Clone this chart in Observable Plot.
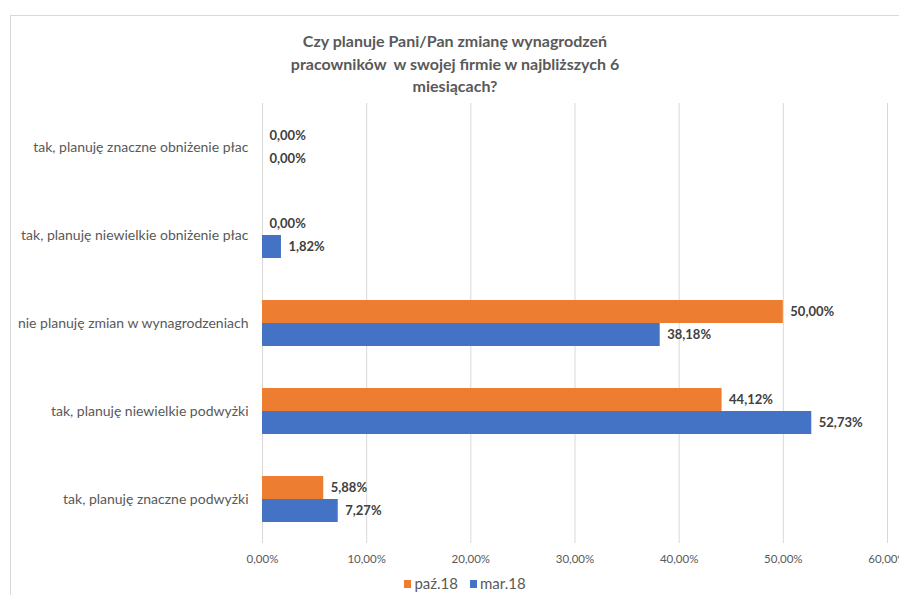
<!DOCTYPE html>
<html>
<head>
<meta charset="utf-8">
<script src="https://cdn.jsdelivr.net/npm/d3@7"></script>
<script src="https://cdn.jsdelivr.net/npm/@observablehq/plot@0.6"></script>
<style>
  html, body { margin: 0; padding: 0; background: #fff; }
  #wrap { position: relative; width: 899px; height: 595px; overflow: hidden; font-family: Lato, "Open Sans", sans-serif; }
  #frame { position: absolute; left: 10px; top: 15px; width: 1000px; height: 700px; border-left: 1px solid #d9d9d9; border-top: 1px solid #d9d9d9; }
  #title { position: absolute; left: 0; top: 30px; width: 910px; text-align: center; font-size: 16px; font-weight: 700; color: #595959; line-height: 22.5px; }
  #chart { position: absolute; left: 0; top: 100px; }
  #legend { position: absolute; left: 0; top: 573px; width: 930px; text-align: center; font-size: 15px; color: #595959; line-height: 20px; }
  #legend span.item { display: inline-block; margin: 0 6px; }
  #legend span.sw { display: inline-block; width: 7px; height: 8px; margin-right: 3px; vertical-align: 1px; }
</style>
</head>
<body>
<div id="wrap">
  <div id="frame"></div>
  <div id="title">Czy planuje Pani/Pan zmianę wynagrodzeń<br>pracowników&nbsp; w swojej firmie w najbliższych 6<br>miesiącach?</div>
  <div id="chart"></div>
  <div id="legend"></div>
</div>
<script>
const categories = [
  "tak, planuję znaczne obniżenie płac",
  "tak, planuję niewielkie obniżenie płac",
  "nie planuję zmian w wynagrodzeniach",
  "tak, planuję niewielkie podwyżki",
  "tak, planuję znaczne podwyżki"
];
const seriesNames = ["paź.18", "mar.18"];
const paz18 = [0.00, 0.00, 50.00, 44.12, 5.88];
const mar18 = [0.00, 1.82, 38.18, 52.73, 7.27];
const xTicks = [0, 10, 20, 30, 40, 50, 60];
const colors = ["#ED7D31", "#4472C4"];

const fmt = v => v.toFixed(2).replace(".", ",") + "%";
const orange = categories.map((c, i) => ({category: c, series: seriesNames[0], value: paz18[i]}));
const blue = categories.map((c, i) => ({category: c, series: seriesNames[1], value: mar18[i]}));

const chart = Plot.plot({
  width: 899,
  height: 470,
  marginLeft: 262,
  marginRight: 12,
  marginTop: 3,
  marginBottom: 27,
  style: {fontFamily: "Lato, 'Open Sans', sans-serif", background: "transparent", overflow: "visible"},
  x: {domain: [0, 60], ticks: xTicks, tickFormat: fmt, label: null},
  y: {domain: categories, paddingInner: 42/88, paddingOuter: 21/88, align: 0.5, label: null},
  marks: [
    Plot.ruleX(xTicks, {stroke: "#d9d9d9", strokeWidth: 1}),
    Plot.barX(orange, {x: "value", y: "category", fill: colors[0], insetBottom: 23}),
    Plot.barX(blue, {x: "value", y: "category", fill: colors[1], insetTop: 23}),
    Plot.text(orange, {x: "value", y: "category", text: d => fmt(d.value), dy: -11.5, dx: 7, textAnchor: "start", fill: "#404040", fontWeight: "bold", fontSize: 13}),
    Plot.text(blue, {x: "value", y: "category", text: d => fmt(d.value), dy: 11.5, dx: 7, textAnchor: "start", fill: "#404040", fontWeight: "bold", fontSize: 13}),
    Plot.axisX({ticks: xTicks, tickFormat: fmt, tickSize: 0, tickPadding: 11, fontSize: 11.5, color: "#595959", label: null}),
    Plot.axisY({tickSize: 0, tickPadding: 14, fontSize: 14, color: "#595959", label: null})
  ]
});
document.getElementById("chart").appendChild(chart);

const legend = document.getElementById("legend");
seriesNames.forEach((s, i) => {
  const item = document.createElement("span");
  item.className = "item";
  const sw = document.createElement("span");
  sw.className = "sw";
  sw.style.background = colors[i];
  item.appendChild(sw);
  item.appendChild(document.createTextNode(s));
  legend.appendChild(item);
});
</script>
</body>
</html>
